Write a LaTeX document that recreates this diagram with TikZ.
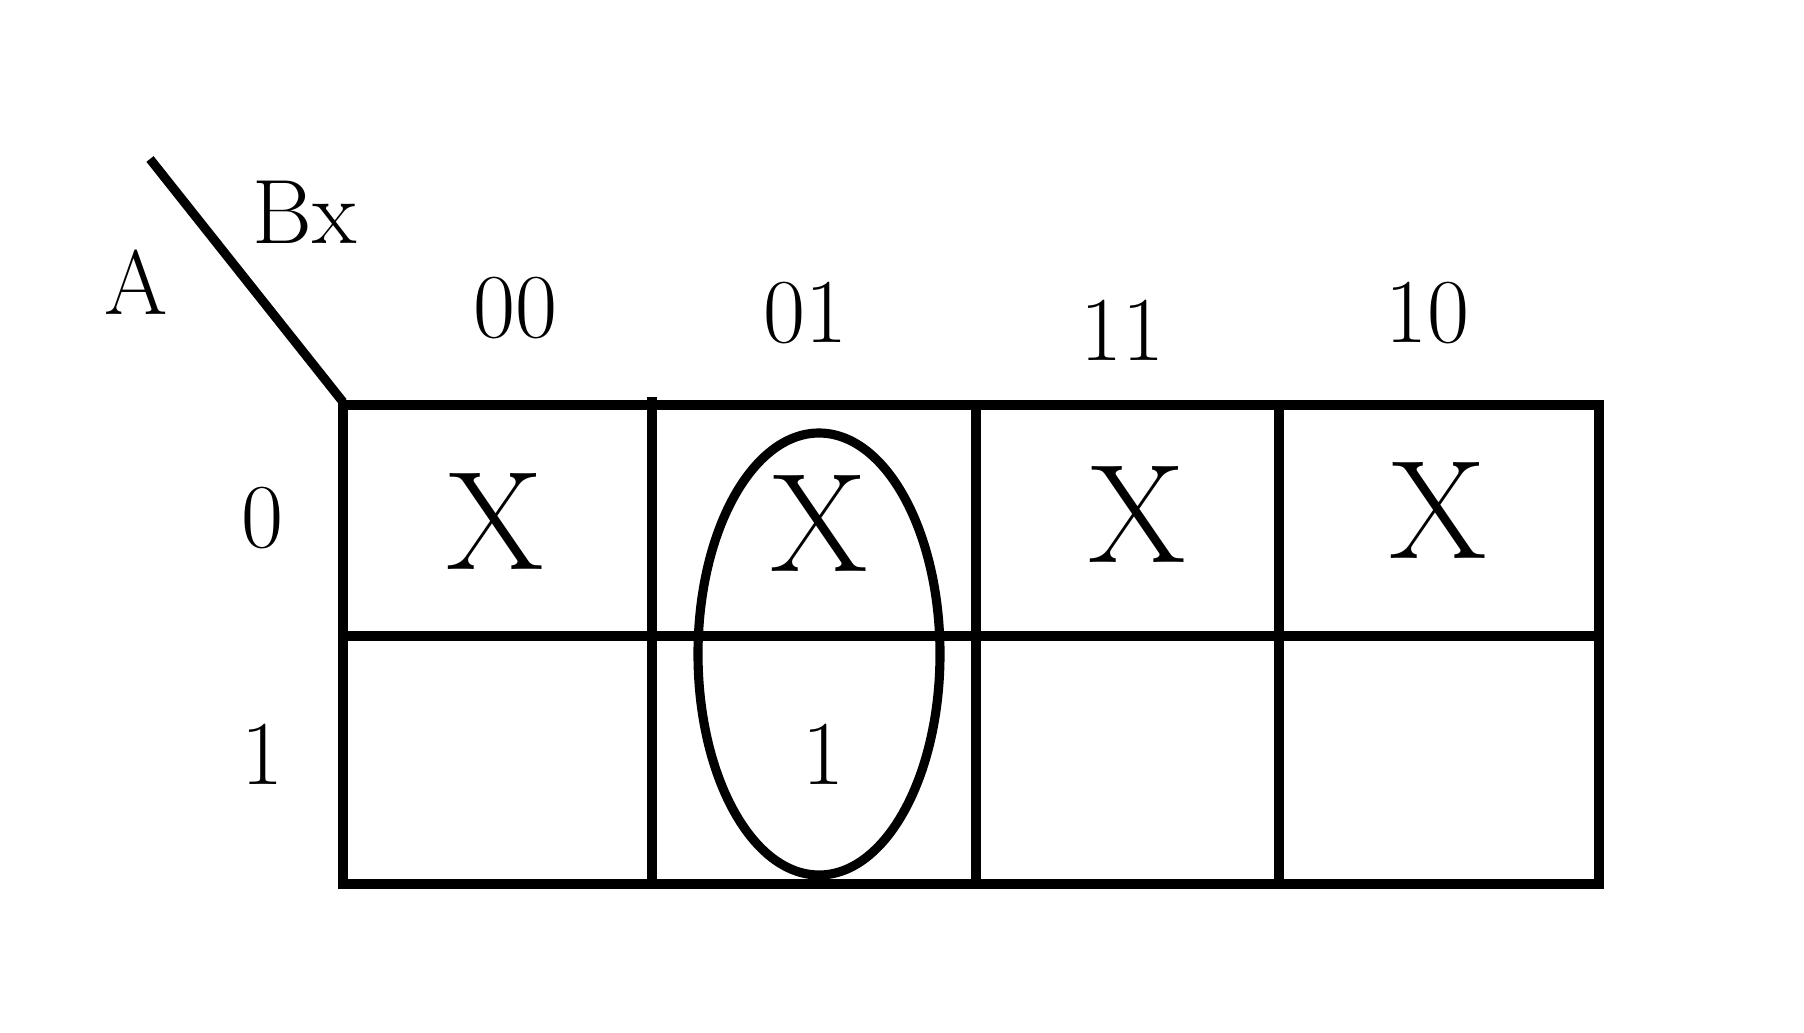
\documentclass[tikz,border=0pt]{standalone}
\usepackage{amsmath}
\usepackage{tikz}
\begin{document}
\begin{tikzpicture}[line width=2.6pt,
        lbl/.style={font=\fontsize{26}{30}\selectfont},
        dc/.style={font=\fontsize{40}{44}\selectfont}]
            \useasboundingbox (0, 0) rectangle (18.04, 10.32);
            % outer frame and grid
            \draw (3.43, 6.27) rectangle (15.99, 1.48);
            \draw (3.43, 3.96) -- (15.99, 3.96);
            \draw (6.52, 6.35) -- (6.52, 1.48);
            \draw (9.76, 6.27) -- (9.76, 1.48);
            \draw (12.79, 6.27) -- (12.79, 1.48);
            \draw (1.50, 8.73) -- (3.43, 6.30);

            % variable names
            \node[lbl] (varA) at (1.36, 7.50) {A};
            \node[lbl] (varBx) at (3.05, 8.20) {Bx};

            % column and row labels
            \node[lbl] (c00) at (5.15, 7.24) {00};
            \node[lbl] (c01) at (8.05, 7.19) {01};
            \node[lbl] (c11) at (11.22, 7.02) {11};
            \node[lbl] (c10) at (14.27, 7.19) {10};
            \node[lbl] (r0) at (2.62, 5.14) {0};
            \node[lbl] (r1) at (2.62, 2.78) {1};

            % cells
            \node[dc] (x00) at (4.95, 5.11) {X};
            \node[dc] (x01) at (8.19, 5.09) {X};
            \node[dc] (x11) at (11.37, 5.18) {X};
            \node[dc] (x10) at (14.38, 5.22) {X};
            \node[lbl] (one01) at (8.23, 2.78) {1};

            % grouping
            \draw (8.19, 3.78) ellipse (1.21 and 2.21);
        \end{tikzpicture}
\end{document}
